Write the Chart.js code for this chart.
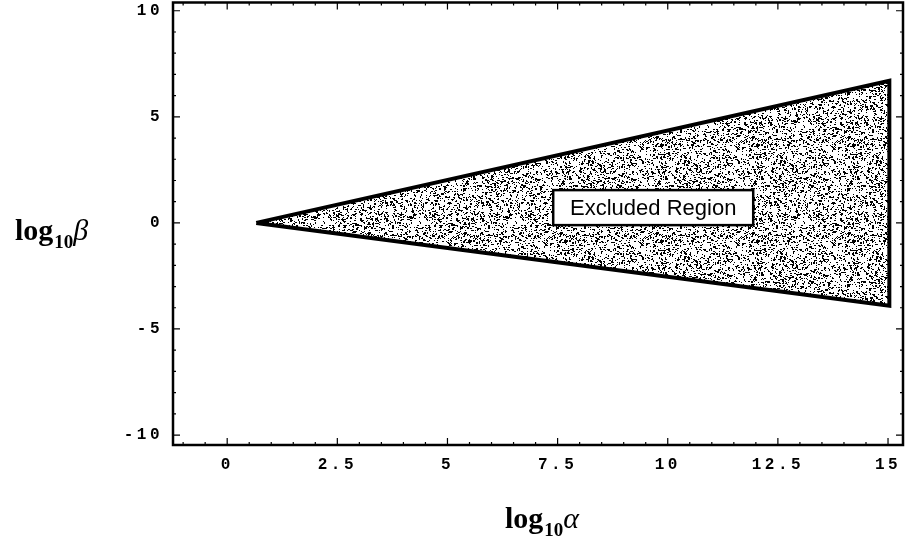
<!DOCTYPE html>
<html>
<head>
<meta charset="utf-8">
<script src="https://cdn.jsdelivr.net/npm/chart.js@4.4.0/dist/chart.umd.min.js"></script>
<style>
  html, body { margin: 0; padding: 0; background: #fff; }
  #wrap { width: 908px; height: 544px; }
</style>
</head>
<body>
<div id="wrap"><canvas id="regionChart" width="908" height="544"></canvas></div>
<script>
// Données
const xTicks = [0, 2.5, 5, 7.5, 10, 12.5, 15];
const yTicks = [-10, -5, 0, 5, 10];
const regionX = [0.66, 15.03, 15.03, 0.66];
const regionY = [0, 6.7, -3.9, 0];
const labelText = 'Excluded Region';
const labelAt = [9.67, 0.72];

// Texture pointillée (déterministe)
function stipple() {
    const c = document.createElement('canvas');
    c.width = 96; c.height = 96;
    const g = c.getContext('2d');
    g.fillStyle = '#fff';
    g.fillRect(0, 0, 96, 96);
    g.fillStyle = '#000';
    let s = 12345;
    const rnd = () => { s = (s * 1103515245 + 12345) & 0x7fffffff; return s / 0x7fffffff; };
    for (let i = 0; i < 1700; i++) {
        const x = Math.floor(rnd() * 96), y = Math.floor(rnd() * 96);
        g.fillRect(x, y, rnd() < 0.3 ? 2 : 1, rnd() < 0.2 ? 2 : 1);
    }
    return g.createPattern(c, 'repeat');
}

const points = regionX.map((x, i) => ({ x: x, y: regionY[i] }));
const tickFont = { family: '"Liberation Mono", "DejaVu Sans Mono", monospace', size: 16, weight: 'bold' };

// espacement des chiffres des graduations
const spacingPlugin = {
    id: 'spacing',
    beforeDraw(chart) { chart.ctx.letterSpacing = '3.5px'; },
    beforeDatasetsDraw(chart) { chart.ctx.letterSpacing = '0px'; }
};

// Cadre, graduations, titres et étiquette
const framePlugin = {
    id: 'frame',
    afterDatasetsDraw(chart) {
        const { ctx, chartArea: a, scales: { x, y } } = chart;
        ctx.save();
        ctx.letterSpacing = '0px';
        ctx.strokeStyle = '#000';
        ctx.lineWidth = 2.5;
        ctx.strokeRect(a.left, a.top, a.right - a.left, a.bottom - a.top);

        ctx.lineWidth = 1.2;
        // graduations x
        for (let v = -1; v <= 15.3; v += 0.5) {
            const px = x.getPixelForValue(v);
            const len = xTicks.includes(v) ? 7 : 3;
            ctx.beginPath();
            ctx.moveTo(px, a.bottom); ctx.lineTo(px, a.bottom - len);
            ctx.moveTo(px, a.top); ctx.lineTo(px, a.top + len);
            ctx.stroke();
        }
        // graduations y
        for (let v = -10; v <= 10; v += 1) {
            const py = y.getPixelForValue(v);
            const len = yTicks.includes(v) ? 7 : 3;
            ctx.beginPath();
            ctx.moveTo(a.left, py); ctx.lineTo(a.left + len, py);
            ctx.moveTo(a.right, py); ctx.lineTo(a.right - len, py);
            ctx.stroke();
        }

        // étiquette
        const lx = x.getPixelForValue(labelAt[0]);
        const ly = y.getPixelForValue(labelAt[1]);
        ctx.font = '22px "Liberation Sans", Arial, sans-serif';
        const w = 200, h = 35;
        ctx.fillStyle = '#fff';
        ctx.fillRect(lx - w / 2, ly - h / 2, w, h);
        ctx.lineWidth = 2.5;
        ctx.strokeRect(lx - w / 2, ly - h / 2, w, h);
        ctx.fillStyle = '#000';
        ctx.textAlign = 'center';
        ctx.textBaseline = 'middle';
        ctx.fillText(labelText, lx, ly + 1);

        // titres d'axes : log₁₀α et log₁₀β
        function logTitle(x0, base, sym) {
            ctx.textAlign = 'left';
            ctx.textBaseline = 'alphabetic';
            ctx.font = 'bold 30px "Liberation Serif", "DejaVu Serif", serif';
            ctx.fillText('log', x0, base);
            let cx = x0 + ctx.measureText('log').width + 1;
            ctx.font = 'bold 19px "Liberation Serif", serif';
            ctx.fillText('10', cx, base + 8);
            cx += ctx.measureText('10').width;
            ctx.font = 'italic 30px "Liberation Serif", serif';
            ctx.fillText(sym, cx, base);
        }
        logTitle(505, 528, 'α');
        logTitle(15, 240, 'β');
        ctx.restore();
    }
};

new Chart(document.getElementById('regionChart'), {
    type: 'scatter',
    data: {
        datasets: [{
            data: points,
            showLine: true,
            borderColor: '#000',
            borderWidth: 4,
            backgroundColor: stipple(),
            fill: 'shape',
            pointRadius: 0,
            tension: 0
        }]
    },
    options: {
        responsive: false,
        animation: false,
        layout: { padding: { top: 2.5, right: 5, left: 0, bottom: 0 } },
        plugins: { legend: { display: false }, tooltip: { enabled: false } },
        scales: {
            x: {
                type: 'linear',
                min: -1.23,
                max: 15.34,
                grid: { display: false },
                border: { display: false },
                afterBuildTicks: s => { s.ticks = xTicks.map(v => ({ value: v })); },
                afterFit: s => { s.height = 99; s.paddingLeft = 0; s.paddingRight = 0; },
                ticks: {
                    color: '#000',
                    padding: 2,
                    maxRotation: 0,
                    font: tickFont,
                    callback: v => String(v)
                }
            },
            y: {
                type: 'linear',
                min: -10.47,
                max: 10.39,
                grid: { display: false },
                border: { display: false },
                afterBuildTicks: s => { s.ticks = yTicks.map(v => ({ value: v })); },
                afterFit: s => { s.width = 173; s.paddingTop = 0; s.paddingBottom = 0; },
                ticks: {
                    color: '#000',
                    padding: 2,
                    font: tickFont,
                    callback: v => String(v)
                }
            }
        }
    },
    plugins: [spacingPlugin, framePlugin]
});
</script>
</body>
</html>
